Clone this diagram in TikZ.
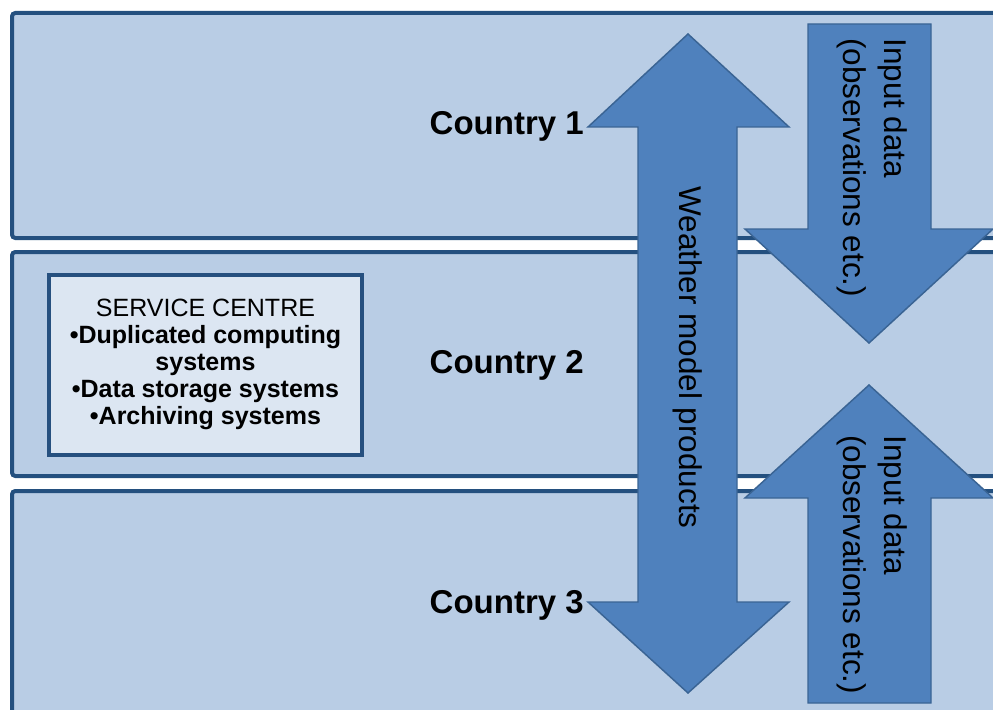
\documentclass[tikz,border=0pt]{standalone}
\usepackage{fontspec}
\setmainfont{Liberation Sans}
\definecolor{bandfill}{HTML}{B9CDE5}
\definecolor{bandline}{HTML}{24507F}
\definecolor{svcfill}{HTML}{DCE6F2}
\definecolor{svcline}{HTML}{26507F}
\definecolor{arrowfill}{HTML}{4F81BD}
\definecolor{arrowline}{HTML}{3A6494}
\begin{document}
\begin{tikzpicture}[x=0.75pt,y=-0.75pt,
  band/.style={draw=bandline, fill=bandfill, line width=3pt, rounded corners=2.5pt},
  svcbox/.style={draw=svcline, fill=svcfill, line width=3pt, minimum width=234.75pt,
    minimum height=135pt, align=center, font=\fontsize{18.75}{20.25}\selectfont, inner sep=0pt},
  bigarrow/.style={draw=arrowline, fill=arrowfill, line width=1.1pt, line join=miter},
  country/.style={font=\fontsize{24.75}{28}\selectfont\bfseries, anchor=base east, inner sep=0pt},
  arrowtext/.style={font=\fontsize{23.6}{30.75}\selectfont, rotate=-90, inner sep=0pt, align=left}
]
\useasboundingbox (0,0) rectangle (993,710);
\fill[white] (0,0) rectangle (993,710);
\begin{scope}
\clip (0,0) rectangle (993,710);
% country bands
\draw[band] (12,13) rectangle (1010,238);
\draw[band] (12,252) rectangle (1010,476);
\draw[band] (12,491) rectangle (1010,740);
% service centre
\node[svcbox] (sc) at (205.5,364.5) {SERVICE CENTRE\\
  \textbf{•Duplicated computing}\\ \textbf{systems}\\
  \textbf{•Data storage systems}\\ \textbf{•Archiving systems}};
% weather model products double arrow
\draw[bigarrow] (688,34) -- (789,127) -- (737,127) -- (737,602) -- (789,602)
  -- (688,693) -- (588,602) -- (638,602) -- (638,127) -- (588,127) -- cycle;
% input data arrow (down)
\draw[bigarrow] (808,24) -- (931,24) -- (931,229) -- (993,229) -- (869,343)
  -- (745,229) -- (808,229) -- cycle;
% input data arrow (up)
\draw[bigarrow] (869,385) -- (993,498) -- (931,498) -- (931,703) -- (808,703)
  -- (808,498) -- (745,498) -- cycle;
\end{scope}
% labels
\node[country] (c1) at (584,135) {Country 1};
\node[country] (c2) at (584,373) {Country 2};
\node[country] (c3) at (584,613) {Country 3};
\node[arrowtext, align=center] (wmp) at (688,357.5) {Weather model products};
\node[arrowtext, anchor=west] (in1) at (872,38) {Input data\\(observations etc.)};
\node[arrowtext, anchor=west] (in2) at (872,435) {Input data\\(observations etc.)};
\end{tikzpicture}
\end{document}
